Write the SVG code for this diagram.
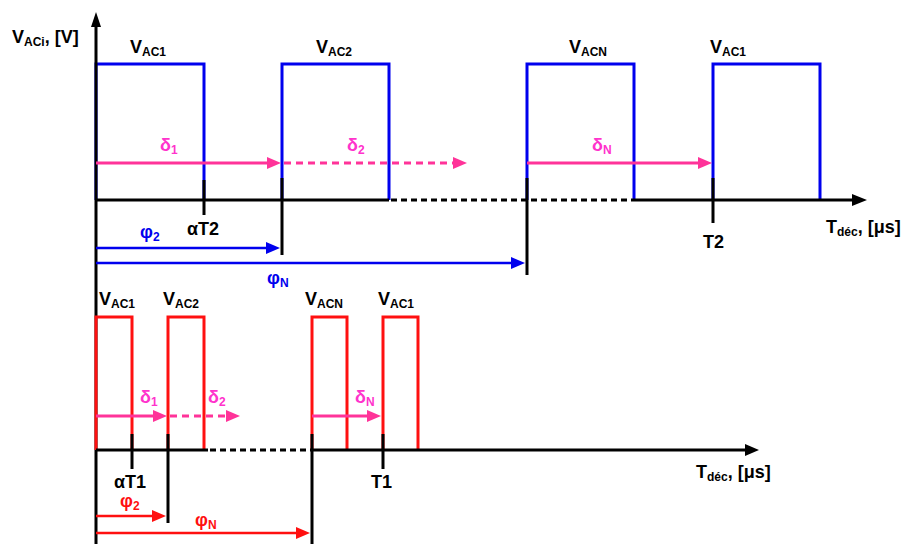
<svg xmlns="http://www.w3.org/2000/svg" width="910" height="544" viewBox="0 0 910 544">
<style>
text{font-family:"Liberation Sans",Arial,sans-serif;font-weight:bold;font-size:18px}
.s{font-size:12px}
.k{fill:#000}
.b{fill:#0000EE}
.r{fill:#FF1010}
.m{fill:#FF33CC}
.ax{stroke:#000;stroke-width:3;fill:none}
.dash{stroke:#000;stroke-width:3;fill:none;stroke-dasharray:6 4}
.bp{stroke:#0000EE;stroke-width:3;fill:none}
.rp{stroke:#FF1010;stroke-width:3;fill:none}
.pk{stroke:#FF3399;stroke-width:3;fill:none}
.pkd{stroke:#FF3399;stroke-width:3;fill:none;stroke-dasharray:7 5}
.bl{stroke:#0000EE;stroke-width:2.5;fill:none}
.rl{stroke:#FF1010;stroke-width:2.5;fill:none}
</style>
<rect width="910" height="544" fill="#fff"/>

<g id="top-pulses">
<path class="bp" d="M96,200V64H204V200M282,200V64H389V200M527,200V64H634V200M713,200V64H820V200"/>
</g>

<g id="axes">
<line class="ax" x1="96" y1="544" x2="96" y2="24"/>
<polygon points="96,12 91,27 101,27" fill="#000"/>
<path class="ax" d="M96,200H389M634,200H853"/>
<path class="dash" d="M391,200H634"/>
<polygon points="852,194 867,200 852,206" fill="#000"/>
<path class="ax" d="M204,180V215M282,178V255M527,178V275M713,178V223"/>
</g>

<g id="top-arrows">
<path class="pk" d="M96,163H268M527,163H699"/>
<polygon points="267,157 281,163 267,169" fill="#FF3399"/>
<polygon points="698,157 712,163 698,169" fill="#FF3399"/>
<path class="pkd" d="M284,163H454"/>
<polygon points="453,157 467,163 453,169" fill="#FF3399"/>
<path class="bl" d="M96,248H267M96,263H512"/>
<polygon points="266,242 280,248 266,254" fill="#0000EE"/>
<polygon points="511,257 525,263 511,269" fill="#0000EE"/>
</g>

<g id="top-labels">
<text x="12" y="43" class="k">V<tspan class="s" dy="3">ACi</tspan><tspan dy="-3">, [V]</tspan></text>
<text x="130" y="53" class="k">V<tspan class="s" dy="3">AC1</tspan></text>
<text x="316" y="53" class="k">V<tspan class="s" dy="3">AC2</tspan></text>
<text x="569" y="53" class="k">V<tspan class="s" dy="3">ACN</tspan></text>
<text x="710" y="53" class="k">V<tspan class="s" dy="3">AC1</tspan></text>
<text x="160" y="151" class="m">δ<tspan class="s" dy="3">1</tspan></text>
<text x="347" y="151" class="m">δ<tspan class="s" dy="3">2</tspan></text>
<text x="592" y="151" class="m">δ<tspan class="s" dy="3">N</tspan></text>
<text x="187" y="235" class="k">αT2</text>
<text x="703" y="248" class="k">T2</text>
<text x="140" y="238" class="b">φ<tspan class="s" dy="3">2</tspan></text>
<text x="267" y="284" class="b">φ<tspan class="s" dy="3">N</tspan></text>
<text x="826" y="233" class="k">T<tspan class="s" dy="3">déc</tspan><tspan dy="-3">, [μs]</tspan></text>
</g>

<g id="bottom-pulses">
<path class="rp" d="M96,450V317H132V450M168,450V317H204V450M312,450V317H347V450M383,450V317H418V450"/>
</g>

<g id="bottom-axes">
<path class="ax" d="M96,450H208M312,450H746"/>
<path class="dash" d="M210,450H312"/>
<polygon points="745,444 759,450 745,456" fill="#000"/>
<path class="ax" d="M132,434V469M168,434V523M312,434V544M383,434V469"/>
</g>

<g id="bottom-arrows">
<path class="pk" d="M96,416H154M312,416H368"/>
<polygon points="153,410 167,416 153,422" fill="#FF3399"/>
<polygon points="367,410 381,416 367,422" fill="#FF3399"/>
<path class="pkd" d="M170,416H227"/>
<polygon points="226,410 240,416 226,422" fill="#FF3399"/>
<path class="rl" d="M96,516H153M96,533H297"/>
<polygon points="152,510 166,516 152,522" fill="#FF1010"/>
<polygon points="296,527 310,533 296,539" fill="#FF1010"/>
</g>

<g id="bottom-labels">
<text x="99" y="305" class="k">V<tspan class="s" dy="3">AC1</tspan></text>
<text x="163" y="305" class="k">V<tspan class="s" dy="3">AC2</tspan></text>
<text x="305" y="305" class="k">V<tspan class="s" dy="3">ACN</tspan></text>
<text x="378" y="305" class="k">V<tspan class="s" dy="3">AC1</tspan></text>
<text x="140" y="403" class="m">δ<tspan class="s" dy="3">1</tspan></text>
<text x="208" y="403" class="m">δ<tspan class="s" dy="3">2</tspan></text>
<text x="355" y="403" class="m">δ<tspan class="s" dy="3">N</tspan></text>
<text x="114" y="488" class="k">αT1</text>
<text x="371" y="488" class="k">T1</text>
<text x="120" y="507" class="r">φ<tspan class="s" dy="3">2</tspan></text>
<text x="195" y="526" class="r">φ<tspan class="s" dy="3">N</tspan></text>
<text x="696" y="478" class="k">T<tspan class="s" dy="3">déc</tspan><tspan dy="-3">, [μs]</tspan></text>
</g>
</svg>
